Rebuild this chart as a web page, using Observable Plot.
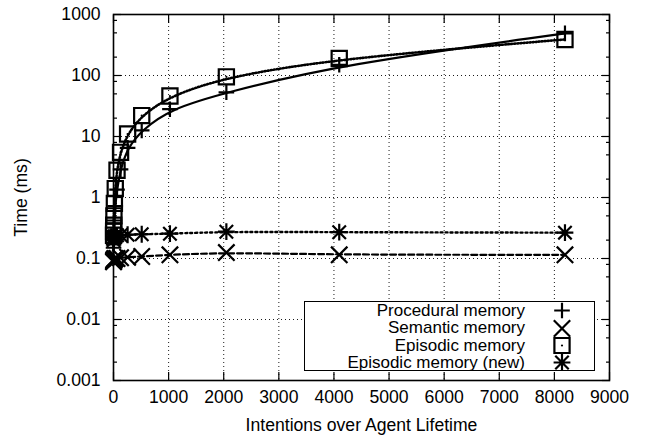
<!DOCTYPE html>
<html><head><meta charset="utf-8">
<script src="https://cdn.jsdelivr.net/npm/d3@7"></script>
<script src="https://cdn.jsdelivr.net/npm/@observablehq/plot@0.6"></script>
<style>
body{margin:0;background:#fff;}
#wrap{position:relative;width:647px;height:436px;font-family:"Liberation Sans",Arial,Helvetica,sans-serif;}
#legend{position:absolute;left:304px;top:301px;width:291px;height:70px;border:1.2px solid #000;background:#fff;box-sizing:border-box;}
.row{display:flex;height:17.4px;align-items:center;font-size:17px;line-height:17.4px;overflow:hidden;}
.row span{width:220px;text-align:right;white-space:nowrap;}
.row svg{margin-left:27px;overflow:visible;}
</style>
</head><body>
<div id="wrap"><div id="chart"></div><div id="legend"></div></div>
<script>
// ---- data ----
const intentions = [1, 2, 4, 8, 16, 32, 64, 128, 256, 512, 1024, 2048, 4096, 8192];
const procedural  = [0.15, 0.17, 0.2, 0.28, 0.42, 0.72, 1.35, 2.9, 6.5, 12.6, 28, 53, 150, 490];
const semantic    = [0.088, 0.09, 0.093, 0.095, 0.098, 0.1, 0.1, 0.103, 0.105, 0.108, 0.115, 0.125, 0.115, 0.115];
const episodic    = [0.24, 0.28, 0.35, 0.5, 0.8, 1.4, 2.8, 5.5, 11, 22, 46, 95, 190, 390];
const episodicNew = [0.2, 0.21, 0.22, 0.22, 0.23, 0.23, 0.24, 0.24, 0.245, 0.25, 0.255, 0.275, 0.27, 0.265];
const seriesNames = ["Procedural memory", "Semantic memory", "Episodic memory", "Episodic memory (new)"];
const xTicks = [0, 1000, 2000, 3000, 4000, 5000, 6000, 7000, 8000, 9000];
const yTicks = [0.001, 0.01, 0.1, 1, 10, 100, 1000];
const minorMultipliers = [2, 5, 8];

// ---- symbols (gnuplot-like) ----
const hOf = s => Math.sqrt(s / Math.PI);
const symPlus = {draw(c, s){const h = hOf(s); c.moveTo(-h,0); c.lineTo(h,0); c.moveTo(0,-h); c.lineTo(0,h);}};
const symTimes = {draw(c, s){const h = hOf(s); c.moveTo(-h,-h); c.lineTo(h,h); c.moveTo(-h,h); c.lineTo(h,-h);}};
const symSquare = {draw(c, s){const h = hOf(s); c.rect(-h,-h,2*h,2*h);}};
const symStar = {draw(c, s){const h = hOf(s), k = h*0.8; c.moveTo(-h,0); c.lineTo(h,0); c.moveTo(0,-h); c.lineTo(0,h);
  c.moveTo(-k,-k); c.lineTo(k,k); c.moveTo(-k,k); c.lineTo(k,-k);}};

const mk = vals => intentions.map((x, i) => ({x, y: vals[i]}));
const dProc = mk(procedural), dSem = mk(semantic), dEpi = mk(episodic), dNew = mk(episodicNew);
const yMinor = yTicks.slice(0, -1).flatMap(t => minorMultipliers.map(m => t * m));

const styles = [
  {data: dProc, dash: null, width: 2.2, sym: symPlus, r: 7.8},
  {data: dSem, dash: "6,3", width: 2.2, sym: symTimes, r: 8.2},
  {data: dEpi, dash: "1.1,2", width: 2.6, sym: symSquare, r: 7.6},
  {data: dNew, dash: "2,3", width: 2.4, sym: symStar, r: 8.4}
];

const noText = () => "";
const marks = [
  Plot.gridX(xTicks, {stroke: "black", strokeOpacity: 1, strokeWidth: 0.9, strokeDasharray: "1,3"}),
  Plot.gridY(yTicks, {stroke: "black", strokeOpacity: 1, strokeWidth: 0.9, strokeDasharray: "1,3"}),
];
for (const s of styles) {
  marks.push(Plot.line(s.data, {x: "x", y: "y", curve: "basis", stroke: "black", strokeWidth: s.width, strokeDasharray: s.dash}));
}
for (const s of styles) {
  marks.push(Plot.dot(s.data, {x: "x", y: "y", symbol: s.sym, r: s.r, fill: "none", stroke: "black", strokeWidth: 2.2}));
}
marks.push(Plot.dot(dEpi, {x: "x", y: "y", r: 1.1, fill: "black", stroke: null}));
marks.push(
  Plot.frame({stroke: "black", strokeWidth: 1.6}),
  Plot.axisX(xTicks, {anchor: "bottom", tickSize: 0, tickPadding: 10, tickFormat: d => String(d),
    label: "Intentions over Agent Lifetime", labelAnchor: "center", labelArrow: "none", labelOffset: 50}),
  Plot.axisX(xTicks, {anchor: "bottom", tickSize: -8, tickFormat: noText, label: null, strokeWidth: 1.2}),
  Plot.axisX(xTicks, {anchor: "top", tickSize: -8, tickFormat: noText, label: null, strokeWidth: 1.2}),
  Plot.axisY(yTicks, {anchor: "left", tickSize: 0, tickPadding: 13, tickFormat: d => String(d),
    label: "Time (ms)", labelAnchor: "center", labelArrow: "none", labelOffset: 99}),
  Plot.axisY(yTicks, {anchor: "left", tickSize: -8, tickFormat: noText, label: null, strokeWidth: 1.2}),
  Plot.axisY(yTicks, {anchor: "right", tickSize: -8, tickFormat: noText, label: null, strokeWidth: 1.2}),
  Plot.axisY(yMinor, {anchor: "left", tickSize: -4, tickFormat: noText, label: null, strokeWidth: 1.2}),
  Plot.axisY(yMinor, {anchor: "right", tickSize: -4, tickFormat: noText, label: null, strokeWidth: 1.2})
);

const chart = Plot.plot({
  width: 647, height: 436,
  marginLeft: 113, marginRight: 38, marginTop: 14, marginBottom: 56,
  style: {fontFamily: '"Liberation Sans", Arial, Helvetica, sans-serif', fontSize: "17.6px", color: "black", background: "white"},
  x: {domain: [0, 9000]},
  y: {type: "log", domain: [0.001, 1000]},
  marks
});
document.getElementById("chart").appendChild(chart);

// ---- legend ----
const legend = d3.select("#legend");
styles.forEach((s, i) => {
  const row = legend.append("div").attr("class", "row");
  row.append("span").text(seriesNames[i]);
  const svg = row.append("svg").attr("width", 20).attr("height", 17);
  const g = svg.append("g").attr("transform", "translate(10,8.5)");
  g.append("path").attr("d", d3.symbol(s.sym, Math.PI * s.r * s.r)()).attr("fill", "none").attr("stroke", "black").attr("stroke-width", 2.2);
  if (s.sym === symSquare) g.append("circle").attr("r", 1.1).attr("fill", "black");
});
</script>
</body></html>
